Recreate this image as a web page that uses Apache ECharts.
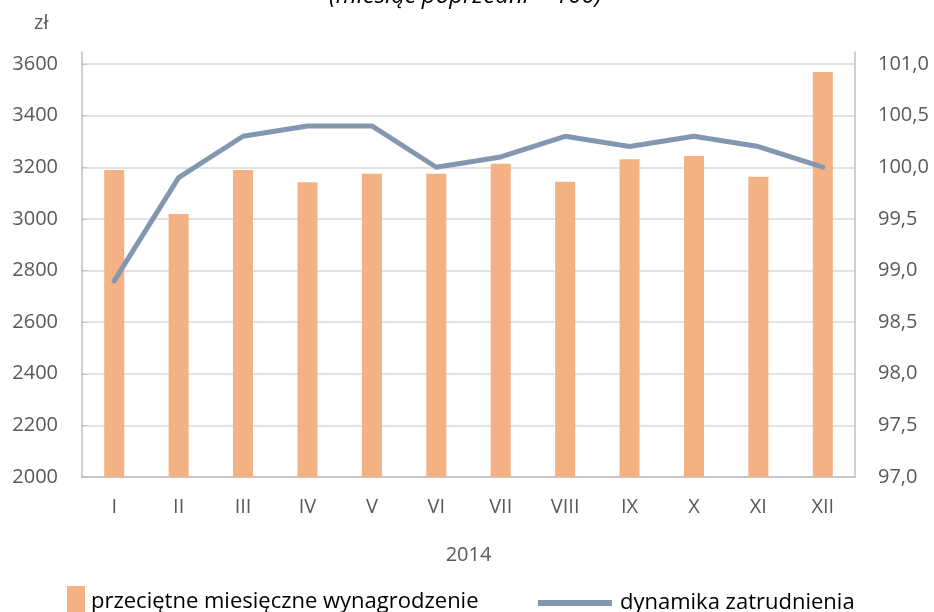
<!DOCTYPE html>
<html>
<head>
<meta charset="utf-8">
<script src="https://cdn.jsdelivr.net/npm/echarts@6/dist/echarts.min.js"></script>
<style>html,body{margin:0;padding:0;background:#fff;}#c{width:934px;height:612px;}</style>
</head>
<body>
<div id="c"></div>
<script>
const categories = ['I','II','III','IV','V','VI','VII','VIII','IX','X','XI','XII'];
const wynagrodzenie = [3189, 3019, 3189, 3142, 3175, 3175, 3214, 3144, 3231, 3244, 3163, 3569];
const dynamika = [98.9, 99.9, 100.3, 100.4, 100.4, 100.0, 100.1, 100.3, 100.2, 100.3, 100.2, 100.0];
const barName = 'przeciętne miesięczne wynagrodzenie';
const lineName = 'dynamika zatrudnienia';
const subtitle = '(miesiąc poprzedni = 100)';
const unitLabel = 'zł';
const yearLabel = '2014';

const FONT = 'Open Sans';
const chart = echarts.init(document.getElementById('c'));
chart.setOption({
  animation: false,
  backgroundColor: '#fff',
  textStyle: { fontFamily: FONT },
  title: [
    { text: subtitle, left: 324, top: -21,
      textStyle: { fontFamily: FONT, fontSize: 24, fontStyle: 'italic', fontWeight: 'normal', color: '#000' } },
    { text: unitLabel, left: 29, top: 8,
      textStyle: { fontFamily: FONT, fontSize: 20, fontWeight: 'normal', color: '#595959' } }
  ],
  legend: [
    { data: [barName], left: 62, top: 573, icon: 'rect', itemWidth: 18, itemHeight: 31,
      itemStyle: { color: '#F4B183' },
      textStyle: { fontFamily: FONT, fontSize: 22, lineHeight: 26, color: '#000', padding: [21, 0, 0, 1] } },
    { data: [lineName], left: 533, top: 583, icon: 'rect', itemWidth: 74, itemHeight: 6,
      itemStyle: { color: '#8497B0' },
      textStyle: { fontFamily: FONT, fontSize: 22, lineHeight: 26, color: '#000', padding: [4, 0, 0, 3] } }
  ],
  grid: { left: 82, right: 79, top: 52, bottom: 135, containLabel: false },
  xAxis: {
    type: 'category', data: categories,
    name: yearLabel, nameLocation: 'middle', nameGap: 68,
    nameTextStyle: { fontFamily: FONT, fontSize: 20, color: '#595959' },
    axisLine: { lineStyle: { color: '#BFBFBF', width: 1.5 } },
    axisTick: { show: false },
    axisLabel: { margin: 20, fontFamily: FONT, fontSize: 20, color: '#595959' }
  },
  yAxis: [
    { type: 'value', min: 2000, max: 3646.5, interval: 200,
      axisLine: { show: true, lineStyle: { color: '#BFBFBF', width: 1.5 } },
      axisTick: { show: true, inside: true, length: 5, lineStyle: { color: '#BFBFBF' } },
      axisLabel: { margin: 24, fontFamily: FONT, fontSize: 20, color: '#595959', showMaxLabel: false,
        formatter: v => String(Math.round(v)) },
      splitLine: { show: true, showMaxLine: false, lineStyle: { color: '#D9D9D9', width: 1.5 } }
    },
    { type: 'value', min: 97, max: 101.116, interval: 0.5, position: 'right',
      axisLine: { show: true, lineStyle: { color: '#BFBFBF', width: 1.5 } },
      axisTick: { show: false },
      axisLabel: { margin: 23, fontFamily: FONT, fontSize: 20, color: '#595959', showMaxLabel: false,
        formatter: v => v.toFixed(1).replace('.', ',') },
      splitLine: { show: false }
    }
  ],
  series: [
    { name: barName, type: 'bar', data: wynagrodzenie, yAxisIndex: 0, barWidth: 20,
      itemStyle: { color: '#F4B183' } },
    { name: lineName, type: 'line', data: dynamika, yAxisIndex: 1, showSymbol: false, symbol: 'none',
      lineStyle: { color: '#8497B0', width: 5, cap: 'round', join: 'round' }, itemStyle: { color: '#8497B0' } }
  ]
});
</script>
</body>
</html>
